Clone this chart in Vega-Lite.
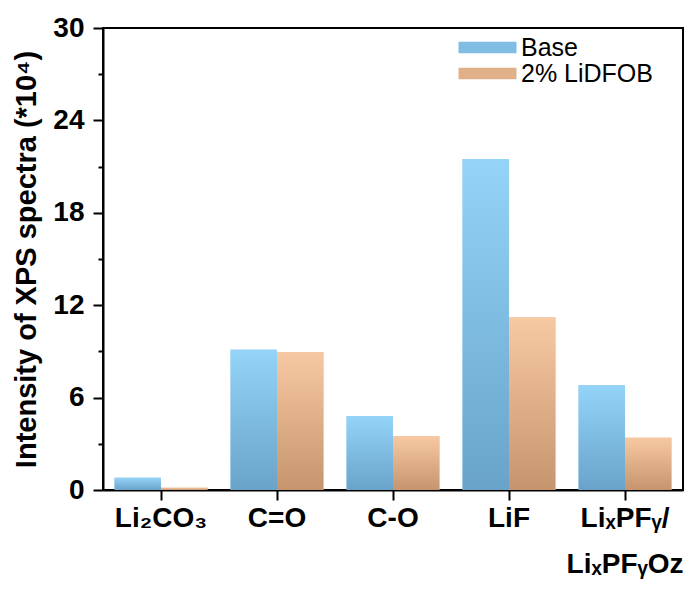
{
  "$schema": "https://vega.github.io/schema/vega-lite/v6.json",
  "width": 580,
  "height": 462,
  "autosize": {"type": "none"},
  "padding": {"left": 103, "top": 28, "right": 7, "bottom": 101},
  "background": "white",
  "config": {
    "view": {"stroke": "black", "strokeWidth": 2},
    "font": "Liberation Sans"
  },
  "data": {
    "values": [
      {"cat": "Li2CO3", "series": "Base", "value": 0.8},
      {"cat": "Li2CO3", "series": "2% LiDFOB", "value": 0.15},
      {"cat": "C=O", "series": "Base", "value": 9.1},
      {"cat": "C=O", "series": "2% LiDFOB", "value": 8.95},
      {"cat": "C-O", "series": "Base", "value": 4.8},
      {"cat": "C-O", "series": "2% LiDFOB", "value": 3.5},
      {"cat": "LiF", "series": "Base", "value": 21.5},
      {"cat": "LiF", "series": "2% LiDFOB", "value": 11.2},
      {"cat": "LixPFy", "series": "Base", "value": 6.8},
      {"cat": "LixPFy", "series": "2% LiDFOB", "value": 3.4}
    ]
  },
  "encoding": {
    "x": {
      "field": "cat",
      "type": "nominal",
      "sort": ["Li2CO3", "C=O", "C-O", "LiF", "LixPFy"],
      "scale": {"paddingInner": 0.2, "paddingOuter": 0.1},
      "axis": {
        "title": null,
        "labelAngle": 0,
        "labelFontSize": 28,
        "labelFontWeight": "bold",
        "labelColor": "black",
        "labelPadding": 4,
        "labelLineHeight": 46,
        "labelBaseline": "top",
        "labelExpr": "datum.value == 'Li2CO3' ? 'Li₂CO₃' : datum.value == 'LixPFy' ? ['LiₓPFᵧ/', 'LiₓPFᵧOz'] : datum.label",
        "domainColor": "black",
        "domainWidth": 2,
        "tickColor": "black",
        "tickWidth": 2,
        "tickSize": 10
      }
    },
    "xOffset": {"field": "series", "sort": ["Base", "2% LiDFOB"], "scale": {"domain": ["Base", "2% LiDFOB"]}},
    "y": {
      "field": "value",
      "type": "quantitative",
      "scale": {"domain": [0, 30], "nice": false},
      "axis": {
        "title": "Intensity of XPS spectra (*10⁴)",
        "titleFontSize": 29,
        "titleFontWeight": "bold",
        "titleColor": "black",
        "titlePadding": 11,
        "values": [0, 3, 6, 9, 12, 15, 18, 21, 24, 27, 30],
        "labelExpr": "datum.value % 6 === 0 ? datum.label : ''",
        "labelFontSize": 28,
        "labelFontWeight": "bold",
        "labelColor": "black",
        "labelPadding": 9,
        "grid": false,
        "domainColor": "black",
        "domainWidth": 2,
        "tickColor": "black",
        "tickWidth": 2,
        "tickSize": {"condition": {"test": "datum.value % 6 === 0", "value": 10}, "value": 5}
      }
    }
  },
  "layer": [
    {
      "mark": {"type": "bar"},
      "encoding": {
        "color": {
          "field": "series",
          "type": "nominal",
          "scale": {"domain": ["Base", "2% LiDFOB"], "range": ["#7fbde3", "#e0b089"]},
          "legend": {
            "title": null,
            "orient": "none",
            "legendX": 372,
            "legendY": 7,
            "padding": 0,
            "symbolType": "M-2.52,-0.5H2.52V0.5H-2.52Z",
            "symbolSize": 529,
            "symbolStrokeWidth": 0,
            "labelFontSize": 25,
            "labelColor": "black",
            "labelOffset": 21,
            "rowPadding": -1,
            "encode": {
              "symbols": {
                "update": {
                  "fill": {"signal": "datum.value === 'Base' ? {gradient: 'linear', x1: 0, y1: 0, x2: 0, y2: 1, stops: [{offset: 0, color: '#94d4f8'}, {offset: 1, color: '#69a3ca'}]} : {gradient: 'linear', x1: 0, y1: 0, x2: 0, y2: 1, stops: [{offset: 0, color: '#f7c9a2'}, {offset: 1, color: '#c6956d'}]}"}
                }
              }
            }
          }
        }
      }
    },
    {
      "mark": {"type": "bar"},
      "encoding": {
        "color": {
          "condition": {
            "test": "datum.series === 'Base'",
            "value": {"gradient": "linear", "x1": 0, "y1": 0, "x2": 0, "y2": 1, "stops": [{"offset": 0, "color": "#94d4f8"}, {"offset": 1, "color": "#69a3ca"}]}
          },
          "value": {"gradient": "linear", "x1": 0, "y1": 0, "x2": 0, "y2": 1, "stops": [{"offset": 0, "color": "#f7c9a2"}, {"offset": 1, "color": "#c6956d"}]}
        }
      }
    }
  ]
}
